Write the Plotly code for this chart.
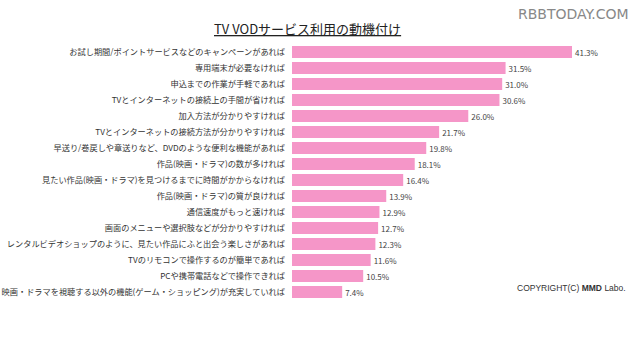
import plotly.graph_objects as go

categories = [
    "お試し期間/ポイントサービスなどのキャンペーンがあれば",
    "専用端末が必要なければ",
    "申込までの作業が手軽であれば",
    "TVとインターネットの接続上の手間が省ければ",
    "加入方法が分かりやすければ",
    "TVとインターネットの接続方法が分かりやすければ",
    "早送り/巻戻しや章送りなど、DVDのような便利な機能があれば",
    "作品(映画・ドラマ)の数が多ければ",
    "見たい作品(映画・ドラマ)を見つけるまでに時間がかからなければ",
    "作品(映画・ドラマ)の質が良ければ",
    "通信速度がもっと速ければ",
    "画面のメニューや選択肢などが分かりやすければ",
    "レンタルビデオショップのように、見たい作品にふと出会う楽しさがあれば",
    "TVのリモコンで操作するのが簡単であれば",
    "PCや携帯電話などで操作できれば",
    "映画・ドラマを視聴する以外の機能(ゲーム・ショッピング)が充実していれば",
]
values = [41.3, 31.5, 31.0, 30.6, 26.0, 21.7, 19.8, 18.1, 16.4, 13.9, 12.9, 12.7, 12.3, 11.6, 10.5, 7.4]
value_labels = [f"{v:.1f}%" for v in values]

font_jp = "Noto Sans CJK JP"

W, H = 640, 340
l, r, t, b = 292, 9, 44, 40
pw, ph = W - l - r, H - t - b

def px(x):
    return (x - l) / pw

def py(y):
    return (H - b - y) / ph

fig = go.Figure(go.Bar(
    x=values,
    y=categories,
    orientation="h",
    marker=dict(color="#F596C8", line=dict(width=0)),
    text=value_labels,
    textposition="outside",
    cliponaxis=False,
    textfont=dict(family=font_jp, size=10, color="#444444"),
))

fig.update_layout(
    width=W, height=H,
    margin=dict(l=l, r=r, t=t, b=b, autoexpand=False),
    paper_bgcolor="white",
    plot_bgcolor="white",
    showlegend=False,
    bargap=0.25,
    xaxis=dict(range=[0, 50], visible=False, fixedrange=True),
    yaxis=dict(autorange="reversed", showgrid=False, showline=False, zeroline=False,
               ticks="", automargin=False,
               tickfont=dict(family=font_jp, size=8.2, color="#333333"),
               ticklabelstandoff=6),
    annotations=[
        dict(text="<u>TV VODサービス利用の動機付け</u>", x=px(307), y=py(28), xref="paper", yref="paper",
             xanchor="center", yanchor="middle", showarrow=False,
             font=dict(family=font_jp, size=13, color="#222222")),
        dict(text="RBBTODAY.COM", x=px(631), y=py(14), xref="paper", yref="paper",
             xanchor="right", yanchor="middle", showarrow=False,
             font=dict(family="DejaVu Sans", size=14, color="#888888")),
        dict(text="COPYRIGHT(C) <b>MMD</b> Labo.", x=px(628), y=py(288), xref="paper", yref="paper",
             xanchor="right", yanchor="middle", showarrow=False,
             font=dict(family="Liberation Sans", size=8.5, color="#333333")),
    ],
)

fig.write_html("out.html")
